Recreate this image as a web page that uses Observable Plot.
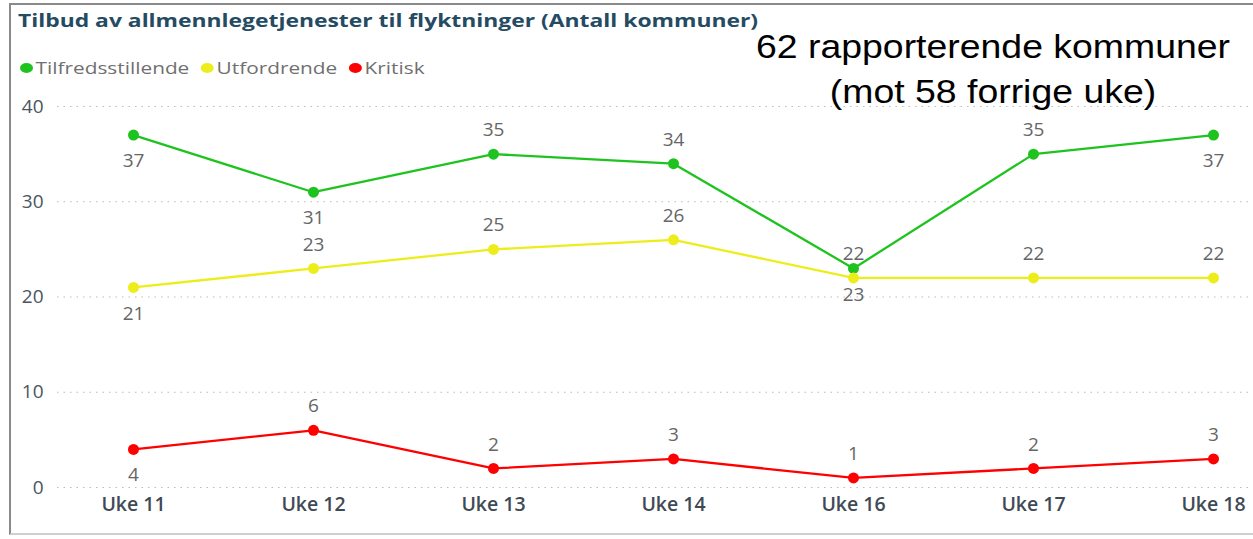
<!DOCTYPE html>
<html>
<head>
<meta charset="utf-8">
<script src="https://cdn.jsdelivr.net/npm/d3@7"></script>
<script src="https://cdn.jsdelivr.net/npm/@observablehq/plot@0.6"></script>
<style>
  html, body { margin: 0; padding: 0; background: #fff; width: 1253px; height: 539px; overflow: hidden; }
  #wrap { position: relative; width: 1253px; height: 539px; overflow: hidden; }
  #frame { position: absolute; left: 9px; top: 3px; width: 1300px; height: 532px; border: 2px solid #8a8a8a; border-bottom-color: #d0d0d0; box-sizing: border-box; }
  #header { position: relative; height: 90px; }
  #title { position: absolute; left: 18px; top: 8px; font-family: "Open Sans", sans-serif; font-weight: 700; font-size: 18px; color: #254b63; white-space: nowrap; transform: scaleX(1.27); transform-origin: left center; }
  #legend { position: absolute; left: 20px; top: 57px; font-family: "Open Sans", sans-serif; font-size: 16px; color: #707070; white-space: nowrap; display: flex; align-items: center; transform: scaleX(1.3); transform-origin: left center; }
  .item { display: inline-flex; align-items: center; margin-right: 9px; }
  .dot { width: 10px; height: 10px; border-radius: 50%; display: inline-block; margin-right: 2px; }
  #note { position: absolute; left: 740px; width: 506px; top: 24px; text-align: center; font-family: "Liberation Sans", Arial, sans-serif; font-size: 34px; line-height: 45px; color: #000; z-index: 5; transform: scaleX(1.1); transform-origin: center center; }
  #chart { position: relative; }
</style>
</head>
<body>
<div id="wrap">
  <div id="frame"></div>
  <div id="header">
    <div id="title"></div>
    <div id="legend"></div>
  </div>
  <div id="note">62 rapporterende kommuner<br>(mot 58 forrige uke)</div>
  <div id="chart"></div>
</div>
<script>
const titleText = "Tilbud av allmennlegetjenester til flyktninger (Antall kommuner)";
const weeks = ["Uke 11", "Uke 12", "Uke 13", "Uke 14", "Uke 16", "Uke 17", "Uke 18"];
const seriesNames = ["Tilfredsstillende", "Utfordrende", "Kritisk"];
const seriesColors = ["#1fc31f", "#eded1c", "#ff0000"];
const tilfredsstillende = [37, 31, 35, 34, 23, 35, 37];
const utfordrende = [21, 23, 25, 26, 22, 22, 22];
const kritisk = [4, 6, 2, 3, 1, 2, 3];
// data label placement: "above" or "below" the point
const tilfLabelPos = ["below", "below", "above", "above", "below", "above", "below"];
const utfLabelPos = ["below", "above", "above", "above", "above", "above", "above"];
const kritLabelPos = ["below", "above", "above", "above", "above", "above", "above"];
const yTicks = [0, 10, 20, 30, 40];

document.getElementById("title").textContent = titleText;
const legend = document.getElementById("legend");
seriesNames.forEach((n, i) => {
  const s = document.createElement("span");
  s.className = "item";
  s.innerHTML = `<span class="dot" style="background:${seriesColors[i]}"></span>${n}`;
  legend.appendChild(s);
});

const valuesBySeries = [tilfredsstillende, utfordrende, kritisk];
const posBySeries = [tilfLabelPos, utfLabelPos, kritLabelPos];
const data = [];
seriesNames.forEach((name, si) => {
  weeks.forEach((w, i) => {
    data.push({series: name, week: w, value: valuesBySeries[si][i], pos: posBySeries[si][i]});
  });
});

const fontFam = "'Open Sans', sans-serif";
const chart = Plot.plot({
  width: 1253,
  height: 449,
  marginLeft: 57,
  marginRight: 0,
  marginTop: 16,
  marginBottom: 52,
  style: {fontFamily: fontFam, fontSize: "16px", color: "#666", background: "transparent"},
  x: {type: "point", domain: weeks, range: [130, 1215], padding: 0, label: null},
  y: {domain: [0, 40], label: null},
  color: {domain: seriesNames, range: seriesColors},
  marks: [
    Plot.gridY(yTicks, {stroke: "#bbb", strokeOpacity: 1, strokeDasharray: "1.5,5", strokeWidth: 1.2}),
    Plot.axisY(yTicks, {tickSize: 0, tickPadding: 14, fontSize: 19, fill: "#4a5560", label: null}),
    Plot.axisX({tickSize: 0, tickPadding: 10, fontSize: 19.5, fill: "#3f4a55", fontWeight: 600, label: null}),
    Plot.line(data, {x: "week", y: "value", z: "series", stroke: "series", strokeWidth: 2.3}),
    Plot.dot(data, {x: "week", y: "value", fill: "series", r: 5.5}),
    Plot.text(data.filter(d => d.pos === "above"), {x: "week", y: "value", text: d => String(d.value), dy: -24, fill: "#666", fontSize: 19}),
    Plot.text(data.filter(d => d.pos === "below"), {x: "week", y: "value", text: d => String(d.value), dy: 26, fill: "#666", fontSize: 19})
  ]
});
document.getElementById("chart").appendChild(chart);
</script>
</body>
</html>
